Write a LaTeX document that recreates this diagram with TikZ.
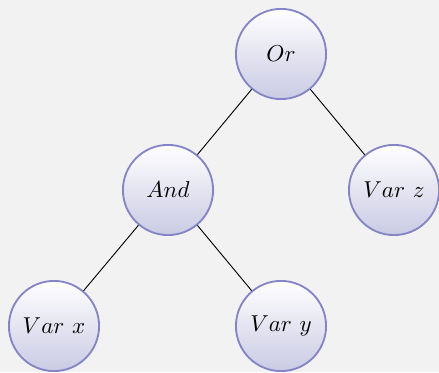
\documentclass[tikz,border=0pt]{standalone}
\usetikzlibrary{shadings}
\definecolor{pagebg}{HTML}{F2F2F2}
\definecolor{ringcol}{HTML}{8484C6}
\definecolor{fillbot}{HTML}{CACAE4}
\tikzset{
  treenode/.style={circle, draw=ringcol, line width=0.8pt, minimum size=39.2pt,
    inner sep=0pt, top color=white, bottom color=fillbot},
  branch/.style={draw=black, line width=0.4pt}
}
\begin{document}
\begin{tikzpicture}[x=0.4348pt, y=-0.4348pt]
  \fill[pagebg] (0,0) rectangle (439,372);
  \useasboundingbox (0,0) rectangle (439,372);
  \node[treenode] (or) at (281,54) {$Or$};
  \node[treenode] (and) at (168,190) {$And$};
  \node[treenode] (vz) at (394,190) {$Var\ z$};
  \node[treenode] (vx) at (54,326) {$Var\ x$};
  \node[treenode] (vy) at (281,326) {$Var\ y$};
  \draw[branch] (or) -- (and);
  \draw[branch] (or) -- (vz);
  \draw[branch] (and) -- (vx);
  \draw[branch] (and) -- (vy);
\end{tikzpicture}
\end{document}
